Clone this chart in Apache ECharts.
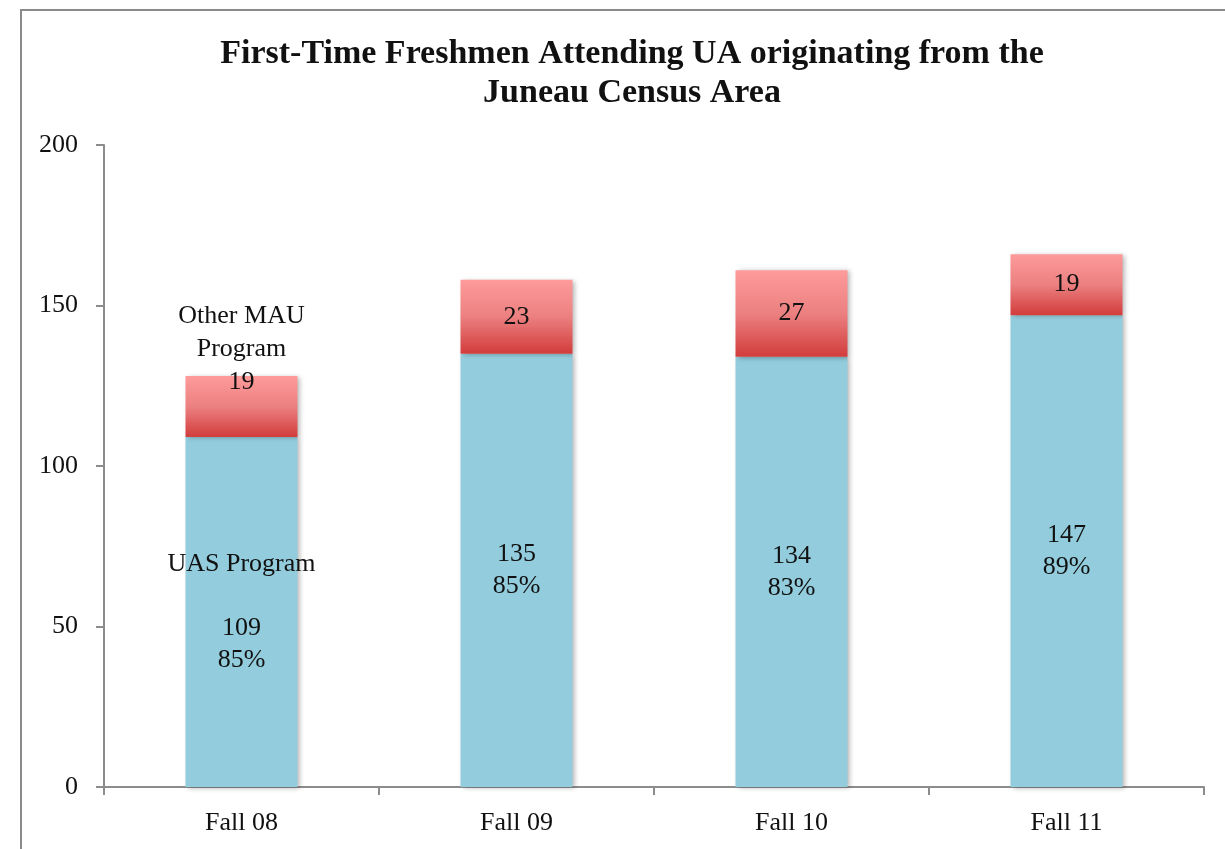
<!DOCTYPE html>
<html>
<head>
<meta charset="utf-8">
<script src="https://cdn.jsdelivr.net/npm/echarts@6/dist/echarts.min.js"></script>
<style>
  html, body { margin: 0; padding: 0; background: #fff; }
  #chartBar { width: 1225px; height: 849px; }
</style>
</head>
<body>
<div id="chartBar"></div>
<script>
const categories = ['Fall 08', 'Fall 09', 'Fall 10', 'Fall 11']
const uasValues = [109, 135, 134, 147]
const uasPct = ['85%', '85%', '83%', '89%']
const otherValues = [19, 23, 27, 19]
const yTicks = [0, 50, 100, 150, 200]

const font = '"Liberation Serif", "DejaVu Serif", serif'
const axisGray = '#8c8c8c'

const barShadow = {
  shadowBlur: 5,
  shadowColor: 'rgba(0,0,0,0.3)',
  shadowOffsetX: 2,
  shadowOffsetY: 1
}

const uasData = uasValues.map((v, i) => {
  const item = { value: v }
  if (i === 0) {
    item.label = { formatter: 'UAS Program\n\n' + v + '\n' + uasPct[i] }
  }
  return item
})

const otherData = otherValues.map((v, i) => {
  const item = { value: v }
  if (i === 0) {
    item.label = {
      position: 'insideTop',
      distance: 0,
      offset: [0, -76],
      formatter: 'Other MAU\nProgram\n' + v
    }
  }
  return item
})

const option = {
  animation: false,
  backgroundColor: '#fff',
  graphic: [
    {
      type: 'rect',
      shape: { x: 21, y: 10, width: 1400, height: 1000 },
      style: { fill: 'none', stroke: '#8a8a8a', lineWidth: 2 },
      silent: true
    }
  ],
  title: {
    text: 'First-Time Freshmen Attending UA originating from the\nJuneau Census Area',
    left: 627,
    top: 30,
    textAlign: 'center',
    textStyle: {
      fontFamily: font,
      fontWeight: 'bold',
      fontSize: 34,
      lineHeight: 39,
      color: '#111'
    }
  },
  grid: {
    left: 104,
    right: 21,
    top: 145,
    bottom: 62
  },
  xAxis: {
    type: 'category',
    data: categories,
    axisLine: { lineStyle: { color: axisGray, width: 2 } },
    axisTick: { show: true, length: 8, lineStyle: { color: axisGray, width: 2 } },
    axisLabel: {
      margin: 23,
      fontFamily: font,
      fontSize: 26,
      color: '#111'
    }
  },
  yAxis: {
    type: 'value',
    min: yTicks[0],
    max: yTicks[yTicks.length - 1],
    interval: 50,
    splitLine: { show: false },
    axisLine: { show: true, lineStyle: { color: axisGray, width: 2 } },
    axisTick: { show: true, length: 8, lineStyle: { color: axisGray, width: 2 } },
    axisLabel: {
      margin: 26,
      fontFamily: font,
      fontSize: 26,
      color: '#111'
    }
  },
  series: [
    {
      name: 'UAS Program',
      type: 'bar',
      stack: 'total',
      barWidth: 112,
      data: uasData,
      itemStyle: Object.assign({ color: '#93cddd' }, barShadow),
      label: {
        show: true,
        position: 'inside',
        fontFamily: font,
        fontSize: 26,
        lineHeight: 32,
        color: '#111',
        formatter: (p) => p.value + '\n' + uasPct[p.dataIndex]
      }
    },
    {
      name: 'Other MAU Program',
      type: 'bar',
      stack: 'total',
      barWidth: 112,
      data: otherData,
      itemStyle: Object.assign({
        color: new echarts.graphic.LinearGradient(0, 0, 0, 1, [
          { offset: 0, color: '#fe9b9b' },
          { offset: 0.5, color: '#ec8080' },
          { offset: 1, color: '#d23c3c' }
        ])
      }, barShadow),
      label: {
        show: true,
        position: 'inside',
        fontFamily: font,
        fontSize: 26,
        lineHeight: 33,
        color: '#111',
        formatter: (p) => String(p.value)
      }
    }
  ]
}

const myChart = echarts.init(document.getElementById('chartBar'))
myChart.setOption(option)
window.addEventListener('resize', () => {
  myChart.resize()
})
</script>
</body>
</html>
